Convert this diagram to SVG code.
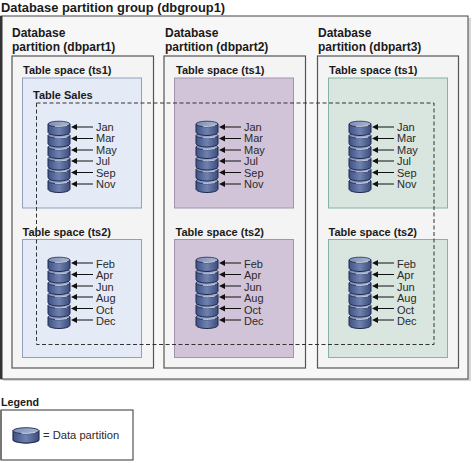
<svg xmlns="http://www.w3.org/2000/svg" xmlns:xlink="http://www.w3.org/1999/xlink" width="473" height="463" viewBox="0 0 473 463">
<style>
text{font-family:"Liberation Sans",Arial,sans-serif;fill:#1a1a1a}
.b{font-weight:bold}
.h{font-size:12px}
.t{font-size:11px}
.m{font-size:11px;fill:#2a2a2a}
.part{fill:#f4f4f4;stroke:#555;stroke-width:1.2}
.ts{stroke-width:1}
.blue{fill:#e4ebf6;stroke:#8fa1bd}
.purple{fill:#d2c4d8;stroke:#a394ad}
.green{fill:#d9e5df;stroke:#86b3a3}
.wire{stroke:#111;stroke-width:1;fill:none}
.dash{fill:none;stroke:#333;stroke-width:1;stroke-dasharray:4 2.5}
.body{fill:url(#cyl);stroke:#1f2a4d;stroke-width:1}
.top{fill:url(#cap);stroke:#1f2a4d;stroke-width:.8}
.shine{fill:none;stroke:#dfe6f3;stroke-width:.8}
</style>
<defs>
<linearGradient id="cyl" x1="0" x2="1" y1="0" y2="0"><stop offset="0" stop-color="#3f5186"/><stop offset=".5" stop-color="#6f82ae"/><stop offset="1" stop-color="#3c4c7e"/></linearGradient>
<linearGradient id="cap" x1="0" x2="1" y1="0" y2="0"><stop offset="0" stop-color="#7d8fba"/><stop offset="1" stop-color="#a9b6d3"/></linearGradient>
<g id="disk"><path class="body" d="M0 3V11C0 13 5 14.500 11 14.500S22 13 22 11V3Z"/><ellipse class="top" cx="11" cy="3" rx="11" ry="2.800"/><path class="shine" d="M7 5.300Q12 6 19 4.600"/></g>
<g id="stack">
<use xlink:href="#disk" href="#disk" y="57"/><use xlink:href="#disk" href="#disk" y="45.500"/><use xlink:href="#disk" href="#disk" y="34.500"/><use xlink:href="#disk" href="#disk" y="23"/><use xlink:href="#disk" href="#disk" y="11.500"/><use xlink:href="#disk" href="#disk" y="0"/>
</g>
<g id="arrow"><line class="wire" x1="5" y1="0" x2="22" y2="0"/><path d="M0 0L6 -3V3Z" fill="#111"/></g>
<g id="arrows">
<use xlink:href="#arrow" href="#arrow" y="0"/><use xlink:href="#arrow" href="#arrow" y="11.500"/><use xlink:href="#arrow" href="#arrow" y="23"/><use xlink:href="#arrow" href="#arrow" y="34"/><use xlink:href="#arrow" href="#arrow" y="45.500"/><use xlink:href="#arrow" href="#arrow" y="57"/>
</g>
</defs>
<rect width="473" height="463" fill="#fff"/>
<text id="title" class="b" x="1" y="12" font-size="12.900">Database partition group (dbgroup1)</text>
<g id="group">
<rect x="3" y="18" width="468" height="363" fill="#d8d8d8"/>
<rect x="1" y="16" width="467" height="363" fill="#f7f7f7" stroke="#444" stroke-width="1"/>
<rect x="0" y="16" width="2.500" height="363" fill="#333"/>
</g>
<g id="dbpart1">
<text class="b h" x="12" y="37">Database</text><text class="b h" x="12" y="51">partition (dbpart1)</text>
<rect class="part" x="12" y="56" width="141.500" height="312"/>
<g id="p1ts1"><text class="b t" x="23" y="74">Table space (ts1)</text><rect class="ts blue" x="22.500" y="78" width="119" height="130"/><text class="b t" x="33" y="99">Table Sales</text></g>
<g id="p1ts2"><text class="b t" x="22.500" y="236">Table space (ts2)</text><rect class="ts blue" x="22.500" y="239.500" width="119" height="118"/></g>
</g>
<g id="dbpart2">
<text class="b h" x="165" y="37">Database</text><text class="b h" x="165" y="51">partition (dbpart2)</text>
<rect class="part" x="164" y="56" width="141.500" height="312"/>
<g id="p2ts1"><text class="b t" x="176" y="74">Table space (ts1)</text><rect class="ts purple" x="174.500" y="78" width="119" height="130"/></g>
<g id="p2ts2"><text class="b t" x="175.500" y="236">Table space (ts2)</text><rect class="ts purple" x="174.500" y="239.500" width="119" height="118"/></g>
</g>
<g id="dbpart3">
<text class="b h" x="318" y="37">Database</text><text class="b h" x="318" y="51">partition (dbpart3)</text>
<rect class="part" x="317.500" y="56" width="141" height="312"/>
<g id="p3ts1"><text class="b t" x="329" y="74">Table space (ts1)</text><rect class="ts green" x="328.500" y="78" width="119" height="130"/></g>
<g id="p3ts2"><text class="b t" x="328.500" y="236">Table space (ts2)</text><rect class="ts green" x="328.500" y="239.500" width="119" height="118"/></g>
</g>
<g id="stacks">
<use xlink:href="#stack" href="#stack" x="48" y="121"/>
<use xlink:href="#stack" href="#stack" x="196" y="121"/>
<use xlink:href="#stack" href="#stack" x="349" y="121"/>
<use xlink:href="#stack" href="#stack" x="48" y="257"/>
<use xlink:href="#stack" href="#stack" x="196" y="257"/>
<use xlink:href="#stack" href="#stack" x="349" y="257"/>
</g>
<g id="connectors">
<use xlink:href="#arrows" href="#arrows" x="71" y="127"/>
<use xlink:href="#arrows" href="#arrows" x="219" y="127"/>
<use xlink:href="#arrows" href="#arrows" x="372" y="127"/>
<use xlink:href="#arrows" href="#arrows" x="71" y="263"/>
<use xlink:href="#arrows" href="#arrows" x="219" y="263"/>
<use xlink:href="#arrows" href="#arrows" x="372" y="263"/>
</g>
<g id="labels">
<g id="l11"><text class="m" x="96" y="131">Jan</text><text class="m" x="96" y="142">Mar</text><text class="m" x="96" y="154">May</text><text class="m" x="96" y="165">Jul</text><text class="m" x="96" y="177">Sep</text><text class="m" x="96" y="188">Nov</text></g>
<g id="l21"><text class="m" x="244" y="131">Jan</text><text class="m" x="244" y="142">Mar</text><text class="m" x="244" y="154">May</text><text class="m" x="244" y="165">Jul</text><text class="m" x="244" y="177">Sep</text><text class="m" x="244" y="188">Nov</text></g>
<g id="l31"><text class="m" x="397" y="131">Jan</text><text class="m" x="397" y="142">Mar</text><text class="m" x="397" y="154">May</text><text class="m" x="397" y="165">Jul</text><text class="m" x="397" y="177">Sep</text><text class="m" x="397" y="188">Nov</text></g>
<g id="l12"><text class="m" x="96" y="268">Feb</text><text class="m" x="96" y="279">Apr</text><text class="m" x="96" y="291">Jun</text><text class="m" x="96" y="302">Aug</text><text class="m" x="96" y="314">Oct</text><text class="m" x="96" y="325">Dec</text></g>
<g id="l22"><text class="m" x="244" y="268">Feb</text><text class="m" x="244" y="279">Apr</text><text class="m" x="244" y="291">Jun</text><text class="m" x="244" y="302">Aug</text><text class="m" x="244" y="314">Oct</text><text class="m" x="244" y="325">Dec</text></g>
<g id="l32"><text class="m" x="397" y="268">Feb</text><text class="m" x="397" y="279">Apr</text><text class="m" x="397" y="291">Jun</text><text class="m" x="397" y="302">Aug</text><text class="m" x="397" y="314">Oct</text><text class="m" x="397" y="325">Dec</text></g>
</g>
<rect id="tableSales" class="dash" x="36.500" y="103" width="397.500" height="241.500"/>
<g id="legend">
<text class="b" x="1" y="406" font-size="10.700">Legend</text>
<rect x="1" y="410" width="132" height="50" fill="#fff" stroke="#333" stroke-width="1"/>
<rect x="0" y="410" width="2" height="50" fill="#777"/>
<use xlink:href="#disk" href="#disk" transform="translate(13 427.500) scale(1.180 1.080)"/>
<text x="43" y="439" style="font-size:11.200px;fill:#2a2a2a">= Data partition</text>
</g>
</svg>
